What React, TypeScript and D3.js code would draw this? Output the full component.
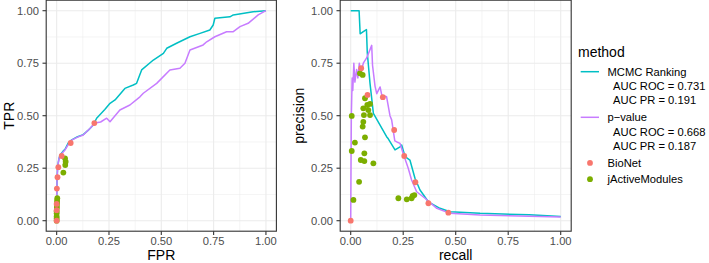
import React from 'react';
import * as d3 from 'd3';

const W = 709, H = 263;
const FONT = '"Liberation Sans", Arial, Helvetica, sans-serif';

// ROC curves: [FPR, TPR]
const mcmcRoc: [number, number][] = [
  [0, 0], [0, 0.1], [0.002, 0.2], [0.005, 0.26], [0.01, 0.29], [0.016, 0.313], [0.03, 0.33], [0.04, 0.34],
  [0.055, 0.37], [0.072, 0.385], [0.1, 0.4], [0.127, 0.41], [0.15, 0.43], [0.175, 0.456], [0.191, 0.488],
  [0.23, 0.53], [0.255, 0.559], [0.279, 0.575], [0.326, 0.63], [0.366, 0.646], [0.382, 0.654], [0.406, 0.718],
  [0.462, 0.765], [0.51, 0.797], [0.526, 0.821], [0.573, 0.845], [0.637, 0.876], [0.685, 0.892], [0.732, 0.908],
  [0.748, 0.932], [0.756, 0.964], [0.828, 0.971], [0.844, 0.98], [0.939, 0.995], [1, 1],
];
const pvalRoc: [number, number][] = [
  [0, 0], [0, 0.1], [0.002, 0.2], [0.005, 0.26], [0.012, 0.3], [0.02, 0.315], [0.04, 0.337], [0.06, 0.37],
  [0.072, 0.384], [0.1, 0.398], [0.127, 0.408], [0.16, 0.44], [0.183, 0.465], [0.21, 0.47], [0.239, 0.488],
  [0.255, 0.471], [0.302, 0.527], [0.35, 0.551], [0.398, 0.59], [0.414, 0.607], [0.478, 0.654], [0.541, 0.718],
  [0.589, 0.726], [0.613, 0.75], [0.637, 0.813], [0.7, 0.837], [0.717, 0.852], [0.756, 0.876], [0.812, 0.9],
  [0.844, 0.9], [0.876, 0.924], [0.915, 0.94], [0.963, 0.98], [1, 1],
];

// PR curves: [recall, precision]
const mcmcPr: [number, number][] = [
  [0, 1], [0.04, 1], [0.045, 0.89], [0.06, 0.9], [0.075, 0.91], [0.079, 0.8], [0.092, 0.654], [0.108, 0.511],
  [0.131, 0.471], [0.171, 0.4], [0.179, 0.39], [0.211, 0.337], [0.235, 0.352], [0.243, 0.36], [0.259, 0.305],
  [0.282, 0.289], [0.306, 0.202], [0.33, 0.146], [0.37, 0.09], [0.425, 0.059], [0.473, 0.043], [0.616, 0.035],
  [0.85, 0.028], [1, 0.02],
];
const pvalPr: [number, number][] = [
  [0, 0], [0.003, 0.5], [0.007, 0.68], [0.01, 0.62], [0.015, 0.75], [0.02, 0.66], [0.028, 0.72], [0.034, 0.68],
  [0.041, 0.75], [0.048, 0.7], [0.06, 0.75], [0.076, 0.775], [0.1, 0.835], [0.104, 0.74], [0.116, 0.64],
  [0.124, 0.605], [0.14, 0.637], [0.148, 0.598], [0.171, 0.59], [0.187, 0.5], [0.195, 0.48], [0.21, 0.38],
  [0.22, 0.375], [0.235, 0.368], [0.25, 0.32], [0.274, 0.25], [0.29, 0.194], [0.314, 0.138], [0.354, 0.107],
  [0.41, 0.059], [0.473, 0.035], [0.616, 0.027], [0.8, 0.022], [1, 0.018],
];

// BioNet points
const bionetRecall = [0, 0.05, 0.08, 0.153, 0.207, 0.255, 0.308, 0.37, 0.465];
const bionetFpr = [0, 0, 0, 0.001, 0.004, 0.008, 0.024, 0.067, 0.18];
const bionetPrecision = [0, 0.726, 0.599, 0.588, 0.432, 0.308, 0.183, 0.083, 0.038];

// jActiveModules points
const jamRoc: [number, number][] = [
  [0, 0], [0, 0.011], [0, 0.02], [0, 0.035], [0, 0.045], [0.001, 0.06], [0.001, 0.07], [0.002, 0.083],
  [0.002, 0.095], [0.003, 0.107], [0.032, 0.229], [0.041, 0.265], [0.043, 0.281], [0.04, 0.297],
];
const jamPr: [number, number][] = [
  [0.005, 0.499], [0.005, 0.332], [0.013, 0.099], [0.02, 0.372], [0.04, 0.185], [0.044, 0.702], [0.048, 0.289],
  [0.057, 0.694], [0.057, 0.448], [0.06, 0.535], [0.06, 0.471], [0.063, 0.503], [0.068, 0.583], [0.068, 0.397],
  [0.065, 0.321], [0.065, 0.284], [0.079, 0.551], [0.084, 0.527], [0.092, 0.556], [0.092, 0.503], [0.108, 0.273],
  [0.227, 0.107], [0.267, 0.102], [0.29, 0.107], [0.295, 0.118], [0.303, 0.122],
];

const ticks = [0, 0.25, 0.5, 0.75, 1];
const minorTicks = [0.125, 0.375, 0.625, 0.875];
const tickFmt = d3.format('.2f');

const COL = { mcmc: '#00BFC4', pval: '#C77CFF', bionet: '#F8766D', jam: '#7CAE00' };

const legendItems = [
  { kind: 'line', color: COL.mcmc, lines: ['MCMC Ranking', '  AUC ROC = 0.731', '  AUC PR = 0.191'] },
  { kind: 'line', color: COL.pval, lines: ['p\u2212value', '  AUC ROC = 0.668', '  AUC PR = 0.187'] },
  { kind: 'point', color: COL.bionet, lines: ['BioNet'] },
  { kind: 'point', color: COL.jam, lines: ['jActiveModules'] },
];

const yScale = d3.scaleLinear().domain([-0.05, 1.05]).range([231.2, 0.2]);

function Panel({ x0, x1, series, points, xTitle, yTitle, yTitleOffset }: any) {
  const xs = d3.scaleLinear().domain([-0.05, 1.05]).range([x0, x1]);
  const ys = yScale;
  const line = d3.line<[number, number]>().x(d => xs(d[0])).y(d => ys(d[1]));
  const [top, bottom] = [ys.range()[1], ys.range()[0]];
  return (
    <g>
      <rect x={x0} y={top} width={x1 - x0} height={bottom - top} fill="#fff" />
      {minorTicks.map(t => (
        <g key={'m' + t}>
          <line x1={xs(t)} x2={xs(t)} y1={top} y2={bottom} stroke="#EBEBEB" strokeWidth={0.55} />
          <line x1={x0} x2={x1} y1={ys(t)} y2={ys(t)} stroke="#EBEBEB" strokeWidth={0.55} />
        </g>
      ))}
      {ticks.map(t => (
        <g key={'M' + t}>
          <line x1={xs(t)} x2={xs(t)} y1={top} y2={bottom} stroke="#EBEBEB" strokeWidth={1.1} />
          <line x1={x0} x2={x1} y1={ys(t)} y2={ys(t)} stroke="#EBEBEB" strokeWidth={1.1} />
        </g>
      ))}
      {series.map((s: any, i: number) => (
        <path key={i} d={line(s.data) || ''} fill="none" stroke={s.color} strokeWidth={1.5} strokeLinejoin="round" />
      ))}
      {points.map((p: any, i: number) =>
        p.data.map((d: [number, number], j: number) => (
          <circle key={i + '-' + j} cx={xs(d[0])} cy={ys(d[1])} r={2.9} fill={p.color} />
        ))
      )}
      <rect x={x0} y={top} width={x1 - x0} height={bottom - top} fill="none" stroke="#333333" strokeWidth={1.1} />
      {ticks.map(t => (
        <g key={'t' + t}>
          <line x1={xs(t)} x2={xs(t)} y1={bottom} y2={bottom + 3.7} stroke="#333333" strokeWidth={1.1} />
          <text x={xs(t)} y={245} textAnchor="middle" fontSize={11.2} fill="#4D4D4D" fontFamily={FONT}>{tickFmt(t)}</text>
          <line x1={x0 - 3.7} x2={x0} y1={ys(t)} y2={ys(t)} stroke="#333333" strokeWidth={1.1} />
          <text x={x0 - 7.3} y={ys(t)} dy="0.36em" textAnchor="end" fontSize={11.2} fill="#4D4D4D" fontFamily={FONT}>{tickFmt(t)}</text>
        </g>
      ))}
      <text x={(x0 + x1) / 2} y={259.5} textAnchor="middle" fontSize={14} fill="#000" fontFamily={FONT}>{xTitle}</text>
      <text transform={`translate(${x0 - yTitleOffset},${(top + bottom) / 2}) rotate(-90)`} textAnchor="middle" fontSize={14} fill="#000" fontFamily={FONT}>{yTitle}</text>
    </g>
  );
}

function Legend() {
  let y = 71.7;
  const out: any[] = [];
  legendItems.forEach((it, i) => {
    const y0 = y;
    out.push(
      <g key={i}>
        {it.kind === 'line' ? (
          <line x1={580.7} x2={599} y1={y0} y2={y0} stroke={it.color} strokeWidth={1.5} />
        ) : (
          <circle cx={590} cy={y0} r={2.9} fill={it.color} />
        )}
        {it.lines.map((l, k) => (
          <text key={k} x={607.5} y={y0 + k * 14.3} dy="0.36em" fontSize={11.2} fill="#000" fontFamily={FONT} style={{ whiteSpace: 'pre' }} xmlSpace="preserve">{l}</text>
        ))}
      </g>
    );
    y += it.kind === 'line' ? 45.6 : 16.3;
  });
  return (
    <g>
      <text x={578} y={56.7} fontSize={14} fill="#000" fontFamily={FONT}>method</text>
      {out}
    </g>
  );
}

export default function App() {
  return (
    <svg width={W} height={H} style={{ position: 'absolute', left: 0, top: 0, background: '#fff' }}>
      <rect width={W} height={H} fill="#fff" />
      <Panel
        x0={46.2} x1={276.4}
        series={[{ data: mcmcRoc, color: COL.mcmc }, { data: pvalRoc, color: COL.pval }]}
        points={[{ data: jamRoc, color: COL.jam }, { data: bionetFpr.map((f, i) => [f, bionetRecall[i]]), color: COL.bionet }]}
        xTitle="FPR" yTitle="TPR" yTitleOffset={32.2}
      />
      <Panel
        x0={340.2} x1={571.2}
        series={[{ data: mcmcPr, color: COL.mcmc }, { data: pvalPr, color: COL.pval }]}
        points={[{ data: jamPr, color: COL.jam }, { data: bionetRecall.map((r, i) => [r, bionetPrecision[i]]), color: COL.bionet }]}
        xTitle="recall" yTitle="precision" yTitleOffset={36}
      />
      <Legend />
    </svg>
  );
}
